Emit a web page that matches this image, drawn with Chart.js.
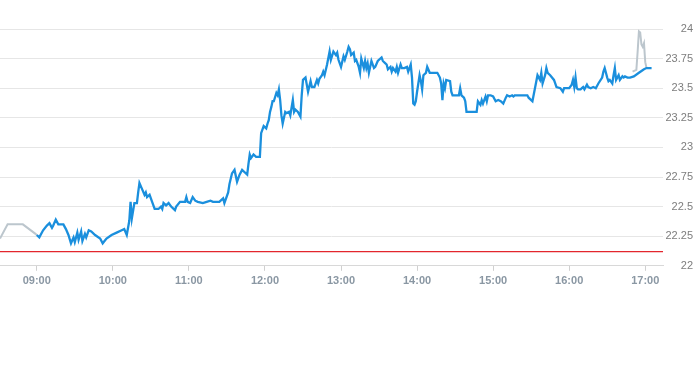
<!DOCTYPE html>
<html>
<head>
<meta charset="utf-8">
<script src="https://cdn.jsdelivr.net/npm/chart.js@4.4.1/dist/chart.umd.min.js"></script>
<style>
  html, body { margin: 0; padding: 0; background: #fff; }
  #wrap { width: 693px; height: 365px; }
</style>
</head>
<body>
<div id="wrap"><canvas id="grafico"></canvas></div>
<script>
// pregão regular
const horas = [
  '09:00','09:02','09:05','09:08','09:10','09:12','09:13','09:15','09:17','09:21','09:23','09:25','09:27','09:29',
  '09:30','09:32','09:33','09:35','09:36','09:38','09:39','09:41','09:43','09:46','09:50','09:52','09:55','09:59',
  '10:03','10:07','10:09','10:11','10:13','10:14','10:15','10:17','10:19','10:20','10:21','10:23','10:25','10:26',
  '10:27','10:29','10:31','10:33','10:36','10:38','10:39','10:40','10:42','10:44','10:46','10:49','10:50','10:53',
  '10:57','10:58','10:59','11:01','11:03','11:05','11:07','11:11','11:14','11:17','11:19','11:24','11:27','11:28',
  '11:31','11:32','11:34','11:36','11:38','11:40','11:42','11:44','11:46','11:47','11:48','11:49','11:51','11:53',
  '11:56','11:57','11:58','11:59','12:01','12:02','12:03','12:04','12:05','12:06','12:07','12:09','12:10','12:11',
  '12:12','12:13','12:14','12:16','12:17','12:19','12:20','12:22','12:23','12:24','12:26','12:28','12:29','12:30',
  '12:32','12:33','12:34','12:36','12:37','12:39','12:41','12:42','12:43','12:45','12:46','12:47','12:49','12:51',
  '12:52','12:54','12:56','12:57','12:58','13:00','13:02','13:03','13:05','13:06','13:07','13:08','13:10','13:11',
  '13:12','13:14','13:15','13:16','13:18','13:19','13:20','13:21','13:22','13:24','13:26','13:27','13:29','13:32',
  '13:33','13:35','13:36','13:37','13:39','13:40','13:41','13:43','13:44','13:45','13:47','13:48','13:50','13:52',
  '13:53','13:55','13:56','13:57','13:58','13:59','14:00','14:02','14:03','14:04','14:05','14:07','14:08','14:10',
  '14:16','14:18','14:19','14:20','14:21','14:22','14:23','14:26','14:27','14:28','14:33','14:34','14:35','14:37',
  '14:38','14:39','14:47','14:48','14:50','14:51','14:52','14:54','14:55','14:56','14:58','15:00','15:02','15:04',
  '15:06','15:08','15:10','15:11','15:13','15:15','15:16','15:17','15:27','15:28','15:31','15:33','15:35','15:37',
  '15:38','15:39','15:41','15:42','15:43','15:45','15:48','15:50','15:53','15:55','15:56','16:00','16:02','16:03',
  '16:04','16:05','16:06','16:07','16:09','16:10','16:11','16:12','16:14','16:15','16:17','16:19','16:21','16:23',
  '16:26','16:27','16:28','16:30','16:31','16:32','16:34','16:35','16:36','16:37','16:38','16:39','16:40','16:42',
  '16:43','16:44','16:46','16:48','16:51','16:55','16:59','17:01','17:05'
];
const precos = [
  22.26,22.24,22.30,22.34,22.36,22.32,22.34,22.39,22.35,22.35,22.31,22.26,22.19,22.24,
  22.20,22.28,22.22,22.29,22.21,22.27,22.24,22.30,22.29,22.26,22.23,22.19,22.23,22.26,
  22.28,22.30,22.31,22.26,22.38,22.54,22.40,22.53,22.53,22.62,22.70,22.65,22.60,22.62,
  22.58,22.60,22.54,22.48,22.48,22.50,22.48,22.53,22.51,22.53,22.50,22.47,22.50,22.54,
  22.54,22.58,22.54,22.53,22.58,22.55,22.54,22.53,22.54,22.55,22.54,22.54,22.57,22.53,
  22.62,22.69,22.78,22.81,22.71,22.77,22.81,22.79,22.77,22.86,22.94,22.91,22.94,22.92,
  22.92,23.12,23.15,23.18,23.16,23.20,23.23,23.30,23.34,23.39,23.39,23.46,23.44,23.49,
  23.40,23.27,23.20,23.30,23.29,23.30,23.27,23.40,23.30,23.32,23.30,23.26,23.44,23.57,
  23.59,23.53,23.47,23.56,23.51,23.51,23.57,23.54,23.58,23.61,23.64,23.61,23.70,23.81,
  23.74,23.81,23.78,23.80,23.74,23.68,23.77,23.74,23.81,23.85,23.83,23.78,23.80,23.73,
  23.74,23.68,23.63,23.75,23.67,23.73,23.67,23.71,23.63,23.73,23.67,23.68,23.73,23.76,
  23.73,23.71,23.70,23.66,23.68,23.64,23.67,23.64,23.68,23.63,23.70,23.67,23.67,23.68,
  23.64,23.70,23.59,23.37,23.36,23.39,23.47,23.61,23.56,23.49,23.61,23.63,23.68,23.63,
  23.63,23.59,23.54,23.40,23.54,23.50,23.57,23.56,23.47,23.44,23.44,23.50,23.44,23.42,
  23.39,23.30,23.30,23.39,23.36,23.40,23.37,23.43,23.39,23.44,23.44,23.43,23.39,23.40,
  23.39,23.37,23.42,23.44,23.43,23.44,23.43,23.44,23.44,23.42,23.39,23.50,23.61,23.57,
  23.63,23.54,23.61,23.67,23.63,23.61,23.57,23.51,23.50,23.47,23.50,23.50,23.53,23.57,
  23.51,23.59,23.50,23.49,23.49,23.50,23.51,23.49,23.53,23.51,23.50,23.51,23.50,23.54,
  23.59,23.64,23.67,23.59,23.56,23.57,23.54,23.61,23.67,23.57,23.59,23.61,23.57,23.60,
  23.59,23.60,23.59,23.59,23.60,23.63,23.66,23.67,23.67
];

// pré-abertura e after-market (cinza)
const horasPre = ['08:31','08:37','08:49','08:59','09:00'];
const precosPre = [22.23,22.35,22.35,22.27,22.26];
const horasPos = ['16:50','16:53','16:54','16:55','16:56','16:57','16:58','16:59','17:00','17:01'];
const precosPos = [23.64,23.655,23.81,23.98,23.97,23.87,23.85,23.88,23.72,23.67];

const fechamentoAnterior = 22.12;
const rotulosEixoX = ['09:00','10:00','11:00','12:00','13:00','14:00','15:00','16:00','17:00'];
const rotulosEixoY = [22, 22.25, 22.5, 22.75, 23, 23.25, 23.5, 23.75, 24];

const paraMin = h => { const p = h.split(':'); return Number(p[0]) * 60 + Number(p[1]); };
const fmtHora = m => String(Math.floor(m / 60)).padStart(2, '0') + ':' + String(Math.round(m % 60)).padStart(2, '0');
const pares = (hs, vs) => hs.map((h, i) => ({ x: paraMin(h), y: vs[i] }));

const xMin = 511;   // ~08:31
const xMax = 1034;  // ~17:14

const fonte = 'Liberation Sans, Arial, Helvetica, sans-serif';

new Chart(document.getElementById('grafico').getContext('2d'), {
  type: 'line',
  data: {
    datasets: [
      {
        data: pares(horas, precos),
        borderColor: '#1a8fdd',
        borderWidth: 2.3,
        pointRadius: 0,
        tension: 0
      },
      {
        data: pares(horasPre, precosPre),
        borderColor: '#bcc6cd',
        borderWidth: 2,
        pointRadius: 0,
        tension: 0
      },
      {
        data: pares(horasPos, precosPos),
        borderColor: '#bcc6cd',
        borderWidth: 2,
        pointRadius: 0,
        tension: 0
      },
      {
        data: [{ x: xMin, y: fechamentoAnterior }, { x: xMax, y: fechamentoAnterior }],
        borderColor: '#e3262d',
        borderWidth: 1.2,
        pointRadius: 0
      }
    ]
  },
  options: {
    responsive: true,
    maintainAspectRatio: false,
    animation: false,
    layout: { padding: { top: 29, right: 0, bottom: 73, left: 0 } },
    plugins: { legend: { display: false }, tooltip: { enabled: false } },
    scales: {
      x: {
        type: 'linear',
        min: xMin,
        max: xMax,
        afterBuildTicks: s => { s.ticks = rotulosEixoX.map(h => ({ value: paraMin(h) })); },
        grid: { drawOnChartArea: false, drawTicks: true, tickLength: 5, color: '#d0d0d0' },
        border: { color: '#d8d8d8' },
        ticks: {
          callback: v => fmtHora(v),
          color: '#8a97a3',
          padding: 4,
          maxRotation: 0,
          autoSkip: false,
          font: { family: fonte, size: 11, weight: 'bold' }
        }
      },
      y: {
        position: 'right',
        min: 22,
        max: 24,
        afterBuildTicks: s => { s.ticks = rotulosEixoY.map(v => ({ value: v })); },
        afterFit: s => { s.width = 30; },
        grid: { color: '#e6e6e6', drawTicks: false },
        border: { display: false },
        ticks: {
          callback: v => String(Number(v.toFixed(2))),
          color: '#7d7d7d',
          padding: 2,
          crossAlign: 'far',
          font: { family: fonte, size: 11 }
        }
      }
    }
  }
});
</script>
</body>
</html>
